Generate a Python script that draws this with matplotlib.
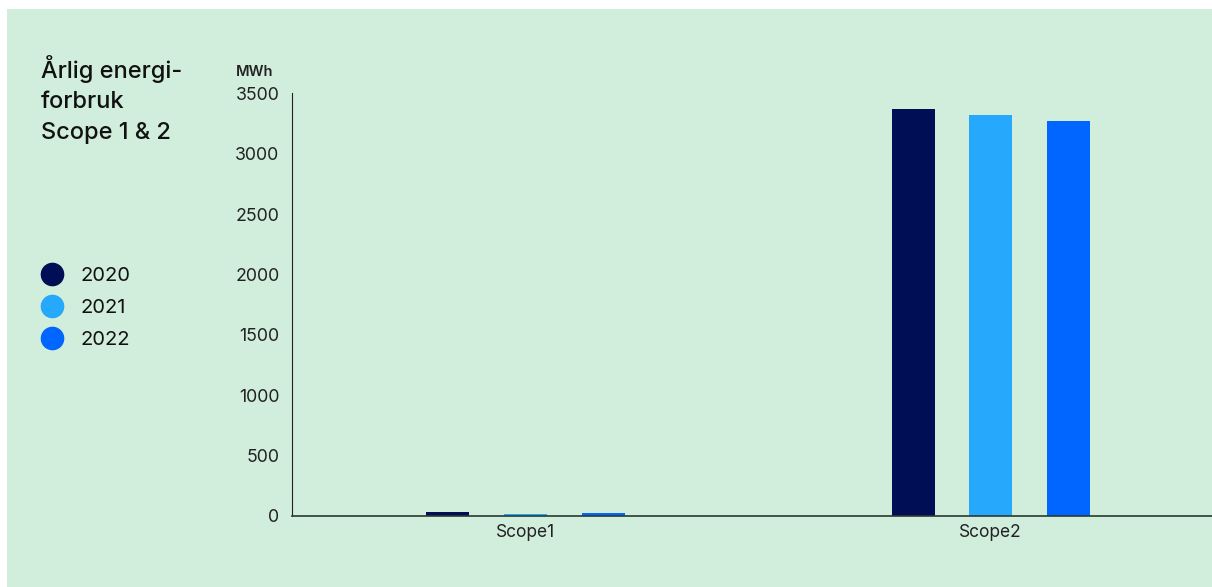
import matplotlib.pyplot as plt
from matplotlib.patches import Rectangle
import numpy as np

plt.rcParams['font.family'] = ['Inter', 'DejaVu Sans']

categories = ["Scope1", "Scope2"]
years = ["2020", "2021", "2022"]
mwh_2020 = [33, 3375]
mwh_2021 = [15, 3325]
mwh_2022 = [25, 3275]
colors = ["#000F55", "#26A8FC", "#0066FF"]
bg = "#D1EEDC"

W, H = 1212, 587
fig = plt.figure(figsize=(W / 100, H / 100), dpi=100)
fig.patch.set_facecolor("white")
# green panel behind everything, with a thin white margin top/left
fig.patches.append(Rectangle((7 / W, 0), 1 - 7 / W, 1 - 9 / H,
                             transform=fig.transFigure, facecolor=bg,
                             edgecolor="none", zorder=-10))

ax = fig.add_axes([292 / W, (H - 516) / H, (W - 292) / W, (516 - 93) / H])
ax.set_facecolor("none")

x = np.arange(len(categories))
width = 0.0925
step = 0.1667
for i, (vals, c) in enumerate(zip([mwh_2020, mwh_2021, mwh_2022], colors)):
    ax.bar(x + (i - 1) * step, vals, width=width, color=c, label=years[i])

ax.set_xlim(-0.502, 1.476)
ax.set_ylim(0, 3505)
ax.set_yticks(range(0, 3501, 500))
ax.set_xticks(x)
ax.set_xticklabels(categories)
ax.tick_params(axis="y", length=0, labelsize=12.8, colors="#222222", pad=9)
ax.tick_params(axis="x", length=0, labelsize=12.5, pad=6, colors="#222222")
for s in ["top", "right"]:
    ax.spines[s].set_visible(False)
ax.spines["left"].set_color("#222222")
ax.spines["bottom"].set_color("#2a3a30")
ax.spines["bottom"].set_linewidth(1.2)

fig.text(255 / W, 1 - 72 / H, "MWh", fontsize=10.5, ha="center", va="center",
         color="#222222", fontweight="semibold")

fig.text(41 / W, 1 - 55 / H, "Årlig energi-\nforbruk\nScope 1 & 2",
         fontsize=17, ha="left", va="top", color="#111111", linespacing=1.5,
         fontweight="medium")

# legend as circles + text
for i, (yr, c) in enumerate(zip(years, colors)):
    yy = 1 - (274 + 32 * i) / H
    fig.lines.append(plt.Line2D([52 / W], [yy], marker="o", markersize=16,
                                color=c, transform=fig.transFigure))
    fig.text(81 / W, yy - 2 / H, yr, fontsize=14.5, ha="left", va="center",
             color="#111111")

fig.savefig("out.png", dpi=100, facecolor="white")
